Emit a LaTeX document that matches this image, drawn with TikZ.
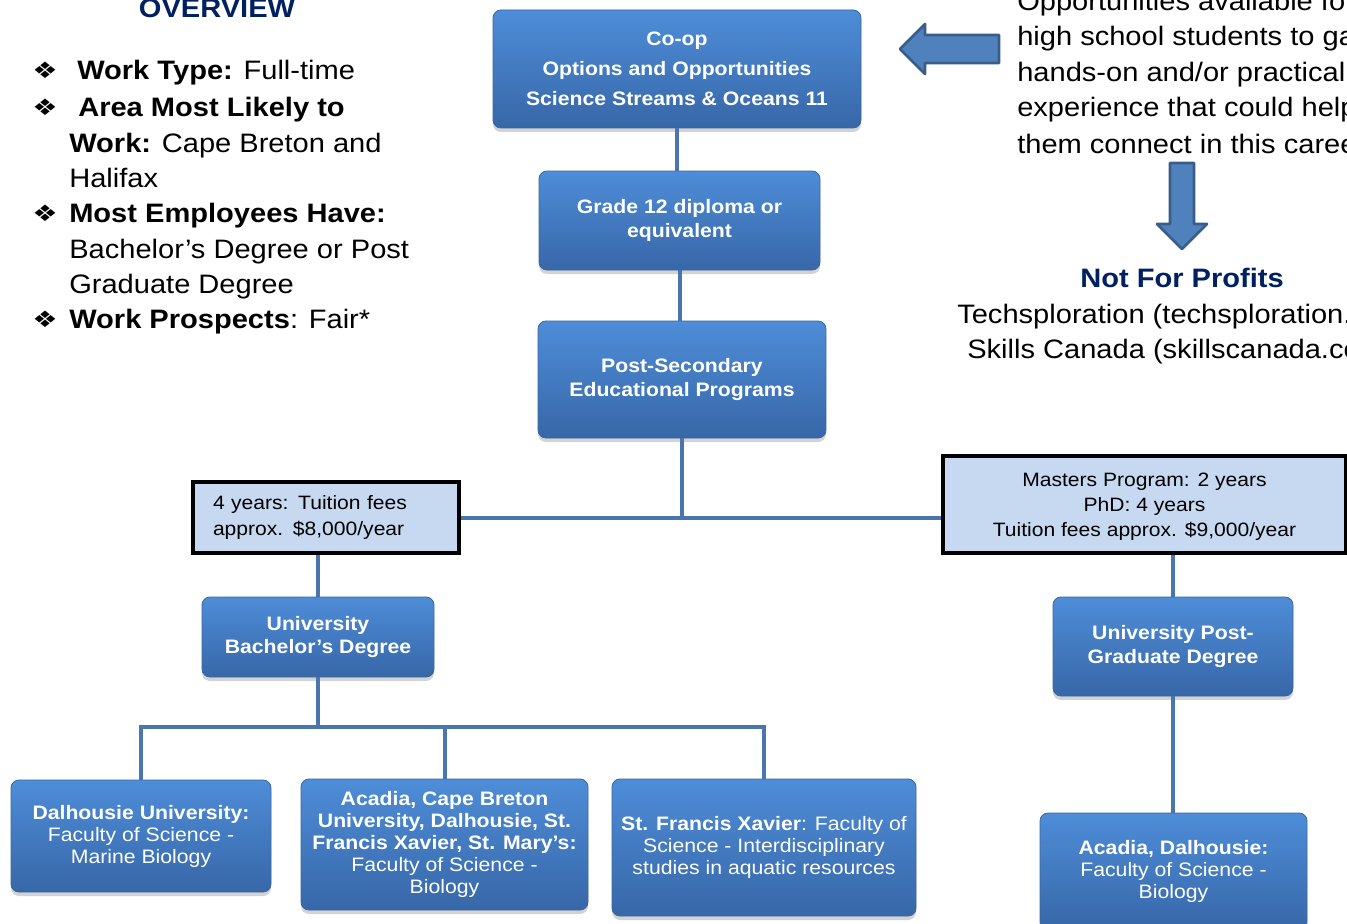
\documentclass[tikz,border=0pt]{standalone}
\usepackage{fontspec}
\setmainfont[FakeStretch=1.09]{Liberation Sans}
\newfontfamily\dejavu[FakeStretch=1.25]{DejaVu Sans}
\usetikzlibrary{shadows}
\definecolor{navy}{HTML}{002060}
\definecolor{boxtop}{HTML}{4E8DD8}
\definecolor{boxbot}{HTML}{3767A8}
\definecolor{boxedge}{HTML}{3A66A0}
\definecolor{connc}{HTML}{4A76AF}
\definecolor{lightfill}{HTML}{C6D9F1}
\definecolor{arrfill}{HTML}{4F81BD}
\definecolor{arredge}{HTML}{385D8A}
\begin{document}
\begin{tikzpicture}[x=0.75pt,y=-0.75pt,
  bluebox/.style={rounded corners=6pt, top color=boxtop, bottom color=boxbot, draw=boxedge, line width=0.6pt, text=white, align=center, inner sep=2pt, drop shadow={opacity=0.35,shadow xshift=0pt,shadow yshift=-3pt}},
  boxfont/.style={font=\bfseries\fontsize{14.6}{17.5}\selectfont},
  unifont/.style={font=\fontsize{14.6}{16.5}\selectfont},
  lightbox/.style={draw=black, line width=2.3pt, fill=lightfill, inner sep=2pt, font=\fontsize{14.5}{19}\selectfont},
  connector/.style={draw=connc, line width=3pt},
  bigarrow/.style={fill=arrfill, draw=arredge, line width=2pt, line join=round},
  listtext/.style={anchor=base west, inner sep=0pt, font=\fontsize{20}{26}\selectfont},
  bulletmark/.style={anchor=base west, inner sep=0pt, font=\dejavu\fontsize{17}{20}\selectfont},
  heading/.style={anchor=base, inner sep=0pt, text=navy, font=\bfseries\fontsize{20}{24}\selectfont}]
\useasboundingbox (0,0) rectangle (1347,924);
\clip (0,0) rectangle (1347,924);

% ---- left overview ----
\node[heading] (ovh) at (217,18) {OVERVIEW};
\node[bulletmark] (b1) at (32,79) {❖};
\node[bulletmark] (b2) at (32,116) {❖};
\node[bulletmark] (b3) at (32,221) {❖};
\node[bulletmark] (b4) at (32,327) {❖};
\node[listtext] (l1) at (77,80) {\textbf{Work Type:} Full-time};
\node[listtext] (l2) at (78,117) {\textbf{Area Most Likely to}};
\node[listtext] (l3) at (69,152) {\textbf{Work:} Cape Breton and};
\node[listtext] (l4) at (69,187) {Halifax};
\node[listtext] (l5) at (69,222) {\textbf{Most Employees Have:}};
\node[listtext] (l6) at (69,258) {Bachelor’s Degree or Post};
\node[listtext] (l7) at (69,293) {Graduate Degree};
\node[listtext] (l8) at (69,328) {\textbf{Work Prospects}: Fair*};

% ---- right text ----
\node[listtext] (r1) at (1017,11) {Opportunities available for};
\node[listtext] (r2) at (1017,46) {high school students to gain};
\node[listtext] (r3) at (1017,82) {hands-on and/or practical};
\node[listtext] (r4) at (1017,117) {experience that could help};
\node[listtext] (r5) at (1017,153) {them connect in this career};
\node[heading] (nfp) at (1182,287) {Not For Profits};
\node[listtext] (t1) at (957,323) {Techsploration (techsploration.ca)};
\node[listtext] (t2) at (967,358) {Skills Canada (skillscanada.com)};

% ---- block arrows ----
\draw[bigarrow] (900,49) -- (925,24) -- (925,35) -- (999,35) -- (999,63) -- (925,63) -- (925,74) -- cycle;
\draw[bigarrow] (1170,163) -- (1194,163) -- (1194,224) -- (1207,224) -- (1182,249) -- (1157,224) -- (1170,224) -- cycle;

% ---- boxes ----
\node[bluebox, minimum width=368*0.75pt, minimum height=118*0.75pt, font=\bfseries\fontsize{14.6}{22.5}\selectfont] (coop) at (677,69) {Co-op\\Options and Opportunities\\Science Streams \& Oceans 11};
\node[bluebox, boxfont, minimum width=281*0.75pt, minimum height=99*0.75pt] (grade) at (679.5,220.5) {Grade 12 diploma or\\equivalent};
\node[bluebox, boxfont, minimum width=288*0.75pt, minimum height=117*0.75pt] (post) at (682,379.5) {Post-Secondary\\Educational Programs};

\node[lightbox, minimum width=266*0.75pt, minimum height=71*0.75pt, align=left, text width=226*0.75pt] (lbox) at (326,517.5) {4 years: Tuition fees\\approx. \$8,000/year};
\node[lightbox, minimum width=403*0.75pt, minimum height=97*0.75pt, align=center] (rbox) at (1144.5,504.5) {\strut Masters Program: 2 years\\PhD: 4 years\\Tuition fees approx. \$9,000/year};

\node[bluebox, boxfont, minimum width=232*0.75pt, minimum height=80*0.75pt] (bach) at (318,637) {University\\Bachelor’s Degree};
\node[bluebox, boxfont, minimum width=240*0.75pt, minimum height=99*0.75pt] (pg) at (1173,646.5) {University Post-\\Graduate Degree};

\node[bluebox, unifont, minimum width=260*0.75pt, minimum height=112*0.75pt] (dal) at (141,836) {\textbf{Dalhousie University:}\\Faculty of Science -\\Marine Biology};
\node[bluebox, unifont, minimum width=287*0.75pt, minimum height=131*0.75pt] (aca) at (444.5,844.5) {\textbf{Acadia, Cape Breton}\\\textbf{University, Dalhousie, St.}\\\textbf{Francis Xavier, St. Mary’s:}\\Faculty of Science -\\Biology};
\node[bluebox, unifont, minimum width=304*0.75pt, minimum height=137*0.75pt] (sfx) at (764,847.5) {\textbf{St. Francis Xavier}: Faculty of\\Science - Interdisciplinary\\studies in aquatic resources};
\node[bluebox, unifont, minimum width=267*0.75pt, minimum height=117*0.75pt] (ad) at (1173.5,871.5) {\textbf{Acadia, Dalhousie:}\\Faculty of Science -\\Biology};

% ---- connectors ----
\coordinate (bj) at (318,727);
\draw[connector] (coop.south) -- (coop.south |- grade.north);
\draw[connector] (grade.south) -- (grade.south |- post.north);
\draw[connector] (post.south) -- (post.south |- lbox.east);
\draw[connector] (lbox.east) -- (lbox.east -| rbox.west);
\draw[connector] (bach.north |- lbox.south) -- (bach.north);
\draw[connector] (bach.south) -- (bj);
\draw[connector] (dal.north) |- (sfx.north |- bj) -- (sfx.north);
\draw[connector] (aca.north) -- (aca.north |- bj);
\draw[connector] (pg.north |- rbox.south) -- (pg.north);
\draw[connector] (pg.south) -- (pg.south |- ad.north);
\end{tikzpicture}
\end{document}
